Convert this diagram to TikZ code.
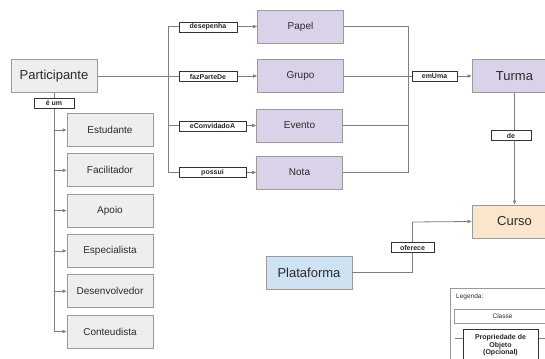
\documentclass[tikz,border=0pt]{standalone}
\usepackage{fontspec}
\setmainfont{Liberation Sans}
\usetikzlibrary{arrows.meta}
\definecolor{grayfill}{HTML}{EEEEEE}
\definecolor{boxborder}{HTML}{9A9A9A}
\definecolor{purplefill}{HTML}{D9D2E9}
\definecolor{orangefill}{HTML}{FCE5CD}
\definecolor{bluefill}{HTML}{CFE2F3}
\definecolor{linecol}{HTML}{7F7F7F}
\definecolor{txtcol}{HTML}{2B2B2B}
\tikzset{
  cls/.style={draw=boxborder, line width=0.9pt, minimum width=86pt, minimum height=33pt, inner sep=0pt, text=txtcol, font=\fontsize{10}{12}\selectfont},
  bigcls/.style={cls, font=\fontsize{13}{15}\selectfont},
  gbox/.style={cls, fill=grayfill},
  pbox/.style={cls, fill=purplefill},
  rel/.style={draw=black!80, line width=0.6pt, fill=white, minimum height=10pt, inner sep=0pt, font=\fontsize{7}{7.5}\selectfont\bfseries, text=black!85},
  conn/.style={draw=linecol, line width=0.8pt},
  arr/.style={conn, -{Triangle[length=4pt,width=3.2pt]}},
}
\begin{document}
\begin{tikzpicture}[x=1pt,y=-1pt]
\useasboundingbox (0,0) rectangle (545,358);
\clip (0,0) rectangle (545,358);
% classes
\node[bigcls, fill=grayfill] (part) at (54,76) {Participante};
\node[gbox] (estud) at (110,130) {Estudante};
\node[gbox] (facil) at (110,170.3) {Facilitador};
\node[gbox] (apoio) at (110,210.6) {Apoio};
\node[gbox] (espec) at (110,250.9) {Especialista};
\node[gbox] (desen) at (110,291.2) {Desenvolvedor};
\node[gbox] (conte) at (110,331.5) {Conteudista};
\node[pbox] (papel) at (300.5,26.5) {Papel};
\node[pbox] (grupo) at (300.5,76) {Grupo};
\node[pbox] (evento) at (299.5,125.5) {Evento};
\node[pbox] (nota) at (299.5,172.5) {Nota};
\node[bigcls, fill=purplefill, minimum width=85pt] (turma) at (514.5,76) {Turma};
\node[bigcls, fill=orangefill, minimum width=85pt] (curso) at (514.5,221.5) {Curso};
\node[bigcls, fill=bluefill] (plat) at (309,272.5) {Plataforma};
% junctions
\coordinate (j1) at (168,76);
\coordinate (j2) at (408,76);
\coordinate (j3) at (412,222);
% is-a connectors
\foreach \c in {estud,facil,apoio,espec,desen,conte}
  \draw[arr] (part.south) |- (\c.west);
% participant relations
\draw[conn] (part.east) -- (j1);
\draw[arr] (j1) |- (papel.west);
\draw[arr] (j1) -- (grupo.west);
\draw[arr] (j1) |- (evento.west);
\draw[arr] (j1) |- (nota.west);
% to Turma
\draw[conn] (papel.east) -| (j2);
\draw[conn] (evento.east) -| (j2);
\draw[conn] (nota.east) -| (j2);
\draw[arr] (grupo.east) -- (turma.west);
\draw[arr] (turma.south) -- (curso.north);
\draw[conn] (plat.east) -| (j3);
\draw[arr] (j3) -- (curso.west);
% labels
\node[rel, minimum width=40pt] (eum) at (54,103) {é um};
\node[rel, minimum width=58pt] (l1) at (208,27) {desepenha};
\node[rel, minimum width=58pt] (l2) at (208,76.5) {fazParteDe};
\node[rel, minimum width=67pt] (l3) at (212.5,126) {eConvidadoA};
\node[rel, minimum width=67pt] (l4) at (212.5,172.5) {possui};
\node[rel, minimum width=45pt] (l5) at (434.5,76.5) {emUma};
\node[rel, minimum width=40pt] (l6) at (511,135.5) {de};
\node[rel, minimum width=43pt] (l7) at (412.5,247.5) {oferece};
% legend
\node[draw=boxborder, line width=0.6pt, fill=white, minimum width=110pt, minimum height=80pt, anchor=north west] (leg) at (450,288) {};
\node[anchor=west, inner sep=0pt, font=\fontsize{6.5}{7}\selectfont, text=txtcol] (legt) at (456,296.5) {Legenda:};
\node[draw=boxborder, line width=0.6pt, minimum width=97pt, minimum height=14pt, inner sep=0pt, font=\fontsize{6.5}{7}\selectfont, text=txtcol] (legc) at (502.5,316) {Classe};
\coordinate (lpl) at (455,338);
\coordinate (lpr) at (545,338);
\draw[conn, line width=0.6pt] (lpl) -- (lpr);
\node[draw=black!80, line width=0.6pt, fill=white, minimum width=75pt, minimum height=32pt, anchor=north, inner sep=0pt, align=center, font=\fontsize{7}{7.6}\selectfont\bfseries, text=black!85] (legp) at (500.5,329) {Propriedade de\\Objeto\\(Opcional)};
\end{tikzpicture}
\end{document}
